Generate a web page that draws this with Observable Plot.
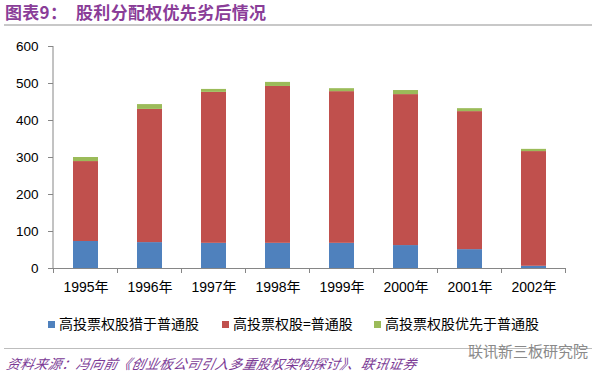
<!DOCTYPE html>
<html>
<head>
<meta charset="utf-8">
<script src="https://cdn.jsdelivr.net/npm/d3@7"></script>
<script src="https://cdn.jsdelivr.net/npm/@observablehq/plot@0.6"></script>
<style>
  html, body { margin: 0; padding: 0; background: #fff; width: 600px; height: 378px; overflow: hidden; }
  #wrap { position: relative; width: 600px; height: 378px; font-family: "Liberation Sans", Arial, "Noto Sans CJK SC", sans-serif; }
  #title { position: absolute; left: 5px; top: 1px; font-family: "Noto Sans CJK SC", sans-serif; font-weight: bold; font-size: 17px; color: #8A3D98; white-space: pre; line-height: 22px; letter-spacing: 0.3px; }
  .hline { position: absolute; left: 4px; width: 588px; height: 2px; background: #c8c8c8; }
  #chart { position: absolute; left: 0; top: 0; }
  #legend { position: absolute; top: 314px; left: 0; width: 600px; height: 18px; font-family: "Noto Sans CJK SC", sans-serif; font-size: 14px; color: #000; }
  .li { position: absolute; top: 0; white-space: nowrap; line-height: 18px; }
  .sw { display: inline-block; width: 7px; height: 7px; margin-right: 4px; vertical-align: 1px; }
  #source { position: absolute; left: 5px; top: 354px; font-family: "Noto Sans CJK SC", sans-serif; font-style: italic; font-size: 13.5px; color: #7B3A95; white-space: pre; transform: skewX(-12deg); transform-origin: left bottom; line-height: 18px; letter-spacing: 0.4px; }
  #wm { position: absolute; left: 468px; top: 342px; font-family: "Noto Sans CJK SC", sans-serif; font-size: 15px; color: #8a8a8a; white-space: nowrap; line-height: 18px; }
</style>
</head>
<body>
<div id="wrap">
  <div id="chart"></div>
  <div id="title"></div>
  <div class="hline" style="top:24px"></div>
  <div id="legend"></div>
  <div class="hline" style="top:348px; height:1px; background:#bdbdbd"></div>
  <div id="wm"></div>
  <div id="source"></div>
</div>
<script>
const titleText = "图表9：　股利分配权优先劣后情况";
const sourceText = "资料来源：冯向前《创业板公司引入多重股权架构探讨》、联讯证券";
const watermarkText = "联讯新三板研究院";

const years = ["1995年", "1996年", "1997年", "1998年", "1999年", "2000年", "2001年", "2002年"];
const seriesNames = ["高投票权股猎于普通股", "高投票权股=普通股", "高投票权股优先于普通股"];
const seriesColors = ["#4F81BD", "#C0504D", "#9BBB59"];
const inferior = [73, 70, 68, 68, 68, 62, 51, 6];
const equal = [216, 360, 408, 424, 410, 408, 373, 310];
const superior = [11, 13, 8, 11, 8, 11, 8, 6];
const yTicks = [0, 100, 200, 300, 400, 500, 600];

const seriesValues = [inferior, equal, superior];
const data = [];
seriesNames.forEach((s, si) => {
  years.forEach((yr, i) => data.push({year: yr, series: s, value: seriesValues[si][i]}));
});

document.getElementById("title").textContent = titleText;
document.getElementById("source").textContent = sourceText;
document.getElementById("wm").textContent = watermarkText;

const axisGray = "#868686";

const chart = Plot.plot({
  width: 600,
  height: 300,
  marginLeft: 53,
  marginRight: 35,
  marginTop: 46,
  marginBottom: 32,
  style: {fontFamily: "'Liberation Sans', Arial, 'Noto Sans CJK SC', sans-serif", fontSize: "13.5px", color: "#000", background: "transparent"},
  x: {domain: years, paddingInner: 0.61, paddingOuter: 0.305},
  y: {domain: [0, 600]},
  color: {domain: seriesNames, range: seriesColors},
  marks: [
    Plot.barY(data, {x: "year", y: "value", fill: "series"}),
    Plot.ruleY([0], {stroke: axisGray, strokeWidth: 1}),
    Plot.axisY(yTicks, {tickSize: 5, tickPadding: 10, stroke: axisGray, fill: "#000", label: null, tickFormat: d => String(d)}),
    Plot.axisX({tickSize: 0, tickPadding: 14, fill: "#000", label: null, fontSize: 14})
  ]
});
document.getElementById("chart").appendChild(chart);

// y axis line and x category separators, positioned through the Plot scales
const xs = chart.scale("x");
const ys = chart.scale("y");
const svg = d3.select(chart);
const y0 = ys.apply(0), yTop = ys.apply(600);
const left = xs.range[0];
svg.append("line").attr("x1", left).attr("x2", left).attr("y1", yTop).attr("y2", y0)
  .attr("stroke", axisGray).attr("stroke-width", 1);
const half = (xs.step - xs.bandwidth) / 2;
const bounds = years.map(y => xs.apply(y) - half);
bounds.push(xs.apply(years[years.length - 1]) + xs.bandwidth + half);
bounds.forEach(bx => {
  svg.append("line").attr("x1", bx).attr("x2", bx).attr("y1", y0).attr("y2", y0 + 5)
    .attr("stroke", axisGray).attr("stroke-width", 1);
});

// legend
const legendLefts = [48, 222, 374];
const legend = document.getElementById("legend");
seriesNames.forEach((s, i) => {
  const d = document.createElement("div");
  d.className = "li";
  d.style.left = legendLefts[i] + "px";
  d.innerHTML = `<span class="sw" style="background:${seriesColors[i]}"></span>`;
  d.appendChild(document.createTextNode(s));
  legend.appendChild(d);
});
</script>
</body>
</html>
